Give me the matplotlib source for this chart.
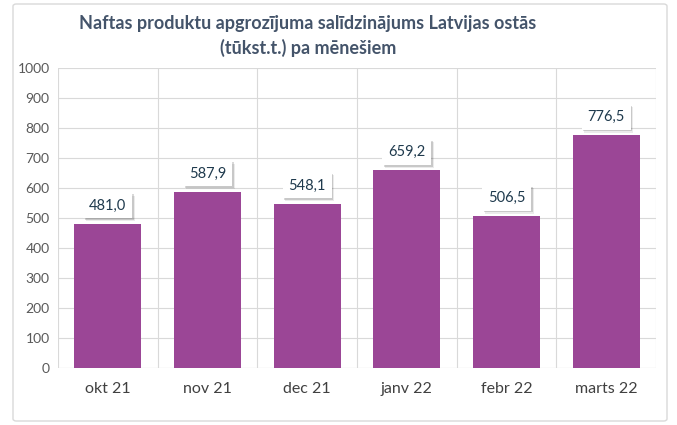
import matplotlib
matplotlib.use('Agg')
import matplotlib.pyplot as plt
import matplotlib.patheffects as pe
from matplotlib.patches import FancyBboxPatch

months = ['okt 21', 'nov 21', 'dec 21', 'janv 22', 'febr 22', 'marts 22']
values = [481.0, 587.9, 548.1, 659.2, 506.5, 776.5]
labels = ['481,0', '587,9', '548,1', '659,2', '506,5', '776,5']

plt.rcParams['font.family'] = ['Lato', 'DejaVu Sans']

fig = plt.figure(figsize=(6.77, 4.25), dpi=100)
ax = fig.add_axes([58/677, 57/425, 598/677, 300/425])

# chart border
fig.patches.append(FancyBboxPatch((13/677, 4/425), 654/677, 417/425,
                                  boxstyle='round,pad=0,rounding_size=0.005',
                                  transform=fig.transFigure, fill=False,
                                  edgecolor='#d9d9d9', linewidth=1.0))

x = range(len(months))
ax.bar(x, values, width=0.67, color='#9b4696', zorder=3)

for i, (v, lab) in enumerate(zip(values, labels)):
    t = ax.annotate(lab, (i, v), xytext=(0, 13), textcoords='offset points',
                    ha='center', va='center', fontsize=10.5, color='#1f3a4d', zorder=5,
                    bbox=dict(boxstyle='square,pad=0.4', fc='white', ec='none'))
    t.get_bbox_patch().set_path_effects([
        pe.SimplePatchShadow(offset=(2, -2), shadow_rgbFace='#000000', alpha=0.08),
        pe.SimplePatchShadow(offset=(1.2, -1.2), shadow_rgbFace='#000000', alpha=0.15),
        pe.Normal()])

ax.set_xlim(-0.5, len(months) - 0.5)
ax.set_ylim(0, 1000)
ax.set_yticks(range(0, 1001, 100))
ax.set_xticks(list(x))
ax.set_xticklabels(months, fontsize=11.5, color='#404040')
ax.tick_params(axis='y', labelsize=10, colors='#595959', length=0, pad=6)
ax.tick_params(axis='x', length=0, pad=10)

# category boundaries as vertical gridlines
ax.set_xticks([i + 0.5 for i in range(-1, len(months))], minor=True)
ax.tick_params(axis='x', which='minor', length=0)
ax.grid(axis='y', color='#d9d9d9', linewidth=0.8, zorder=0)
ax.grid(axis='x', which='minor', color='#d9d9d9', linewidth=0.8, zorder=0)
for s in ax.spines.values():
    s.set_visible(False)
ax.axhline(0, color='#d9d9d9', linewidth=0.8, zorder=1)

fig.text(0.455, 0.915, 'Naftas produktu apgrozījuma salīdzinājums Latvijas ostās\n(tūkst.t.) pa mēnešiem',
         ha='center', va='center', fontsize=13, fontweight='bold', color='#44546a', linespacing=1.5)

fig.savefig('out.png', dpi=100)
